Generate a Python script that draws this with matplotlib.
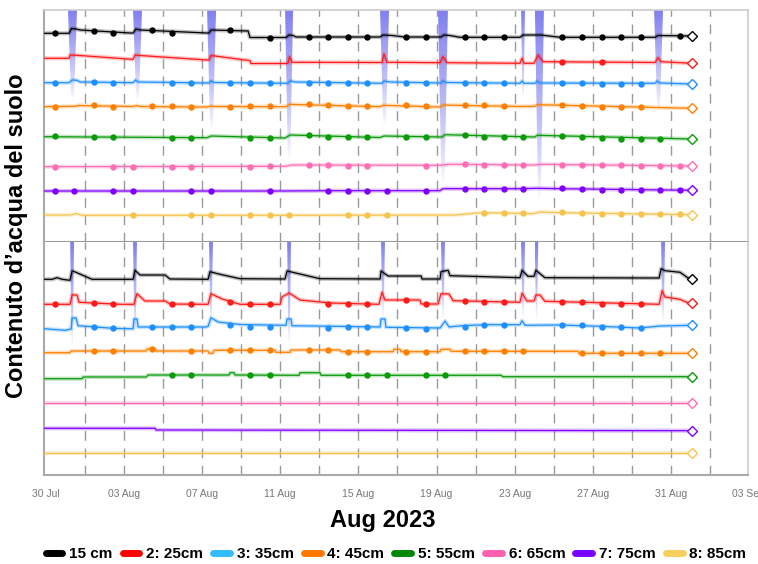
import numpy as np
import matplotlib
matplotlib.use("Agg")
import matplotlib.pyplot as plt
from matplotlib.patches import Polygon
from matplotlib.colors import to_rgb
from matplotlib import font_manager

plt.rcParams['font.family'] = ['Liberation Sans', 'DejaVu Sans']

# legend / series
labels = ['15 cm', '2: 25cm', '3: 35cm', '4: 45cm', '5: 55cm', '6: 65cm', '7: 75cm', '8: 85cm']
line_colors = ['#000000', '#ff1a1a', '#1e8fff', '#ff8000', '#0a9a0a', '#ff6eb4', '#8000ff', '#f5c44e']
legend_colors = ['#000000', '#ff0000', '#33bbff', '#ff7700', '#008800', '#ff5fb0', '#7700ff', '#f7cf5f']
rain_color = '#8080f0'

# x axis: days since 30 Jul 2023 00:00
tick_days = [0, 4, 8, 12, 16, 20, 24, 28, 32, 35.95]
tick_labels = ['30 Jul', '03 Aug', '07 Aug', '11 Aug', '15 Aug', '19 Aug',
               '23 Aug', '27 Aug', '31 Aug', '03 Sep']
grid_days = [2, 4, 6, 8, 10, 12, 14, 16, 18, 20, 22, 24, 26, 28, 30, 32, 34]
read_time = 0.45  # daily readings (dots) at about 11:00

# ---------------- top panel ----------------
t15_d = [-0.10, 1.18, 1.31, 1.54, 1.75, 4.31, 4.46, 4.61, 4.82, 8.25, 8.35, 8.45, 10.35, 10.45, 12.29, 12.45, 12.65,
         12.81, 17.11, 17.26, 17.72, 18.39, 20.23, 20.38, 20.69, 21.20, 24.27, 24.43, 25.20, 25.35, 26.32, 31.19,
         31.34, 33.08]
t15_v = [208.7, 208.7, 213.5, 213, 212, 209, 209, 213, 212, 209, 209, 212, 211, 204.5, 204.5, 207, 206.5, 205, 205,
         207, 206.5, 205, 205, 207, 206.5, 204.7, 204.7, 207, 207, 207, 204.7, 204.7, 206.5, 206]
t15_mk = [0, 2, 3, 5, 6, 9, 11, 13, 14, 15, 16, 18, 19, 21, 22, 23, 26, 27, 28, 29, 30, 32]
t15_mv = [208.7, 211, 209, 212, 209.5, 212.5, 204, 204.7, 204.7, 204.7, 204.7, 204.7, 204.7, 204.7, 204.7, 204.7,
          204.7, 204.7, 204.7, 204.7, 204.7, 206.3]

t25_d = [-0.10, 1.18, 1.23, 1.59, 4.41, 4.46, 4.56, 4.82, 8.25, 8.35, 8.45, 8.66, 10.45, 10.50, 12.29, 12.39, 12.47,
         12.60, 17.21, 17.31, 17.46, 20.18, 20.33, 20.54, 24.27, 24.38, 24.48, 24.99, 25.20, 25.45, 31.19, 31.34,
         31.50, 33.08]
t25_v = [183.7, 183.7, 187, 186.7, 182.7, 182.7, 187, 186.5, 182, 182, 186.5, 186, 181.3, 178.5, 178.5, 178.7, 185.3,
         179.7, 179.5, 188, 179.7, 179.3, 185.3, 179.3, 178.7, 183.7, 178.7, 178.7, 187, 180.3, 179.5, 184.3, 180.3,
         178.7]
t25_mk = [26, 28]
t25_mv = [180.3, 179.7]

t35_d = [-0.10, 1.18, 1.34, 1.59, 1.75, 4.46, 4.59, 4.72, 8.35, 8.45, 8.61, 12.29, 12.39, 12.50, 12.75, 17.21, 17.31,
         17.62, 20.23, 20.33, 20.49, 24.27, 24.38, 24.48, 25.04, 25.15, 25.30, 31.19, 31.29, 31.44, 33.08]
t35_v = [159.3, 159.3, 162, 161.7, 160, 159.3, 162, 160, 159, 161.3, 159.5, 158.7, 158.7, 161.3, 160, 158.7, 161, 160,
         159, 161.3, 159.5, 158.7, 161, 158.7, 158.7, 161, 159, 158.7, 161, 159, 158]
t35_mk = [0, 2, 3, 6, 7, 9, 10, 11, 13, 14, 15, 16, 18, 19, 21, 22, 23, 26, 27, 28, 29, 30]
t35_mv = [159.3, 159.7, 159, 159.3, 158.7, 158.7, 159.3, 158.7, 159.3, 159.3, 158.7, 158.7, 159.3, 158.7, 159.3,
          159.3, 158.7, 158.7, 158.7, 158.3, 158.3, 158.3]

t45_d = [-0.10, 1.49, 1.64, 4.46, 4.66, 4.82, 8.25, 8.45, 8.61, 12.29, 12.50, 12.75, 17.11, 17.26, 20.18, 20.33,
         24.27, 25.04, 25.15, 33.08]
t45_v = [135.3, 135.7, 136.5, 135.5, 136.5, 135.5, 135, 136, 135.5, 135.3, 137.7, 137.5, 135.3, 136.7, 135, 137,
         135.5, 135.7, 137.3, 133.7]
t45_mk = [0, 2, 3, 5, 6, 7, 9, 10, 11, 13, 14, 15, 16, 18, 19, 21, 22, 23, 26, 27, 28, 29, 30]
t45_mv = [135.3, 136.7, 135.3, 136, 136, 135.3, 135.3, 136, 135.7, 137.7, 137, 136, 136, 136.7, 136, 137, 136.7, 136,
          137.3, 136, 135.3, 134.7, 134.7]

t55_d = [-0.10, 8.25, 8.45, 12.24, 12.50, 17.11, 17.31, 20.28, 20.44, 25.04, 25.15, 33.08]
t55_v = [105.3, 104.3, 106, 104, 107, 104.5, 106, 105, 107.3, 105, 106.7, 103]
t55_mk = [0, 2, 3, 6, 7, 10, 11, 13, 14, 15, 16, 18, 19, 21, 22, 23, 24, 26, 27, 28, 29, 30, 31]
t55_mv = [105.7, 105.3, 104.7, 104.3, 104, 104.3, 104, 106.7, 105.3, 105.3, 105.3, 105.3, 105.3, 106.7, 105.3, 105.3,
          105.3, 106, 105.3, 104.3, 103.3, 103.3, 103.3]

t65_d = [-0.10, 12.24, 12.60, 20.18, 20.59, 25.04, 25.30, 33.08]
t65_v = [75.3, 75.7, 77, 76.7, 77.7, 77, 77.7, 76]
t65_mk = [0, 3, 4, 6, 7, 10, 11, 13, 14, 15, 16, 19, 21, 22, 23, 24, 26, 27, 28, 29, 30, 31, 32]
t65_mv = [75.3, 75.3, 75.3, 75.3, 75.3, 75.3, 75.7, 76.7, 76.7, 76, 76, 76, 77.7, 76.7, 76.7, 76.7, 77.3, 77.3, 76.7,
          76.7, 76.3, 76.3, 76.3]

t75_d = [-0.10, 12.24, 14.55, 20.18, 20.33, 24.27, 25.15, 26.32, 33.08]
t75_v = [51, 51, 51.3, 51.3, 53.3, 53.3, 53.7, 53.3, 51.7]
t75_mk = [0, 1, 3, 4, 7, 8, 11, 14, 15, 16, 17, 19, 21, 22, 23, 24, 26, 27, 28, 29, 30, 31, 32]
t75_mv = [51, 51, 51, 51, 51, 51, 51, 51.3, 51.3, 51.3, 51.3, 51.3, 53.3, 53.3, 53.3, 53, 53.7, 53, 52.3, 51.7, 51.7,
          51.7, 51.7]

t85_d = [-0.10, 1.23, 1.54, 1.85, 12.24, 20.95, 22.23, 24.27, 24.94, 25.30, 26.32, 33.08]
t85_v = [27, 27, 28.5, 26.7, 26.7, 27, 29.3, 28.7, 28.3, 30, 29.3, 27.3]
t85_mk = [4, 7, 8, 10, 11, 12, 15, 16, 17, 22, 23, 24, 26, 27, 28, 29, 30, 31, 32]
t85_mv = [27, 27, 27, 27, 27, 27, 27, 27, 27, 29.3, 28.7, 28.7, 30, 29.3, 28, 27.7, 27.7, 27.7, 27.7]

# rain / irrigation events shown at the top panel
t_rain_day = [1.36, 4.69, 8.48, 12.45, 17.34, 20.33, 24.43, 25.27, 31.37]
t_rain_w = [0.46, 0.46, 0.46, 0.41, 0.46, 0.51, 0.20, 0.46, 0.46]
t_rain_tip = [142, 142, 112, 82, 117, 57, 142, 42, 132]

# ---------------- bottom panel ----------------
b15_d = [-0.10, 0.31, 0.57, 0.82, 1.23, 1.34, 1.44, 2.36, 4.46, 4.56, 4.82, 6.10, 6.35, 8.30, 8.40, 8.91, 9.94, 12.24,
         12.35, 14.03, 17.11, 17.16, 17.52, 19.21, 19.26, 20.18, 20.23, 20.59, 20.69, 24.27, 24.38, 24.68, 24.99,
         25.09, 25.55, 31.40, 31.50, 31.70, 32.47, 32.88, 33.08]
b15_v = [195.7, 195.7, 197.3, 195.7, 194.7, 204, 203.5, 195.7, 195.7, 204.7, 200, 200, 196, 195.7, 203.3, 200.7,
         196.3, 196, 204, 196.3, 196, 204, 199, 199, 196, 196, 203.3, 204.7, 199.3, 197.3, 204.7, 198.7, 198.7, 204.7,
         197.3, 197, 206.3, 204.3, 202.7, 197, 196.3]
b15_mk = []
b15_mv = []

b25_d = [-0.10, 1.23, 1.34, 1.59, 1.69, 3.79, 4.51, 4.66, 5.07, 6.10, 6.35, 8.15, 8.30, 8.45, 9.02, 9.94, 11.99,
         12.09, 12.45, 13.01, 14.55, 17.05, 17.21, 17.36, 19.15, 19.21, 20.08, 20.23, 20.64, 20.85, 24.27, 24.38,
         24.63, 24.99, 25.09, 25.30, 25.55, 31.40, 31.55, 31.70, 32.47, 32.88, 33.08]
b25_v = [170.7, 170.7, 180, 180, 172.7, 170.7, 170.7, 181.3, 174, 174, 171, 170.7, 170.7, 181.3, 176, 170.7, 170.7,
         178, 182, 175, 172, 170.7, 182.7, 175, 175, 171, 171, 181.3, 181, 174.3, 172.7, 181.7, 174, 174, 180, 180,
         173.7, 170.7, 184.3, 178, 175.7, 172, 172.3]
b25_mk = [0, 2, 3, 6, 7, 9, 10, 11, 14, 15, 16, 18, 19, 21, 22, 23, 26, 27, 28, 29, 30]
b25_mv = [170.7, 171.8, 170.7, 170.7, 170.7, 173.3, 170.7, 170.7, 170.7, 170.7, 170.7, 174.7, 170.7, 173.7, 173, 173,
          173, 173, 171.3, 170.7, 170.7]

b35_d = [-0.10, 0.98, 1.29, 1.34, 1.54, 1.64, 3.44, 4.20, 4.46, 4.51, 4.66, 4.72, 8.15, 8.30, 8.45, 8.81, 9.94, 12.14,
         12.29, 12.35, 12.55, 12.60, 17.11, 17.16, 17.36, 17.41, 20.18, 20.44, 20.64, 21.30, 22.53, 24.27, 24.38,
         24.53, 26.32, 28.37, 30.42, 31.44, 33.08]
b35_v = [146.3, 144.7, 146, 157, 157, 149.3, 146.7, 146.3, 146.3, 156, 156, 148, 148, 148.5, 157.3, 153, 150.5, 149.7,
         149.7, 156, 156, 149.3, 148, 156, 156, 147.7, 147, 154, 148, 149.3, 150.3, 150.3, 154.3, 149.7, 150, 148.7,
         147, 149, 149.7]
b35_mk = [2, 3, 5, 6, 7, 9, 10, 11, 14, 15, 16, 18, 19, 21, 22, 23, 26, 27, 28, 29, 30]
b35_mv = [148, 147, 148, 148, 148, 149.7, 148.3, 148.3, 147.3, 148, 148, 146.7, 146, 148.3, 149.7, 149.7, 149.7,
          149.7, 148.3, 148, 147]

b45_d = [-0.10, 1.23, 1.29, 5.13, 5.18, 5.59, 5.64, 8.30, 8.35, 8.55, 8.61, 11.73, 11.78, 12.50, 12.55, 15.06, 15.11,
         17.77, 17.82, 18.13, 18.18, 20.18, 20.23, 20.69, 20.74, 27.24, 27.30, 33.08]
b45_v = [122.3, 122.3, 124, 124, 126, 126, 124, 124, 121.7, 121.7, 124.7, 124.7, 122.7, 122.7, 125, 125, 123.3, 123.3,
         125.7, 125.7, 123.3, 123.3, 125.7, 125.7, 123.7, 123.7, 121.7, 121.7]
b45_mk = [2, 3, 5, 7, 9, 10, 11, 13, 14, 15, 16, 18, 19, 21, 22, 23, 24, 27, 28, 29, 30, 31]
b45_mv = [124.3, 124.3, 126.3, 124, 124.7, 124.7, 124.7, 125, 125, 123.3, 123.3, 123.3, 123.3, 123.7, 123.7, 123.7,
          123.7, 121.7, 121.7, 121.7, 121.7, 121.7]

b55_d = [-0.10, 1.85, 1.90, 5.13, 5.23, 9.38, 9.43, 9.63, 9.68, 12.96, 13.01, 14.03, 14.09, 23.30, 23.40, 33.08]
b55_v = [96.3, 96.3, 98, 98, 100, 100, 102.3, 102.3, 100, 99.7, 102.3, 102.3, 99.7, 99.7, 98.3, 98.3]
b55_mk = [6, 7, 10, 11, 15, 16, 17, 19, 20]
b55_mv = [100, 100, 100, 100, 99.7, 99.7, 99.7, 99.7, 99.7]

b65_d = [-0.10, 33.08]
b65_v = [71.7, 71.7]
b65_mk = []
b65_mv = []

b75_d = [-0.10, 5.59, 5.64, 33.08]
b75_v = [46.7, 46.7, 45, 44.3]
b75_mk = []
b75_mv = []

b85_d = [-0.10, 33.08]
b85_v = [22.3, 22.3]
b85_mk = []
b85_mv = []

b_rain_day = [1.34, 4.56, 8.45, 12.45, 17.26, 20.33, 24.43, 25.12, 31.60]
b_rain_w = [0.20, 0.20, 0.20, 0.20, 0.20, 0.20, 0.20, 0.18, 0.20]
b_rain_tip = [129, 139, 149, 129, 156, 156, 156, 156, 152]

top_series = [(t15_d, t15_v, t15_mk, t15_mv), (t25_d, t25_v, t25_mk, t25_mv), (t35_d, t35_v, t35_mk, t35_mv),
              (t45_d, t45_v, t45_mk, t45_mv), (t55_d, t55_v, t55_mk, t55_mv), (t65_d, t65_v, t65_mk, t65_mv),
              (t75_d, t75_v, t75_mk, t75_mv), (t85_d, t85_v, t85_mk, t85_mv)]
bot_series = [(b15_d, b15_v, b15_mk, b15_mv), (b25_d, b25_v, b25_mk, b25_mv), (b35_d, b35_v, b35_mk, b35_mv),
              (b45_d, b45_v, b45_mk, b45_mv), (b55_d, b55_v, b55_mk, b55_mv), (b65_d, b65_v, b65_mk, b65_mv),
              (b75_d, b75_v, b75_mk, b75_mv), (b85_d, b85_v, b85_mk, b85_mv)]


def draw_panel(ax, series, rain_day, rain_w, rain_tip, top):
    for d in grid_days:
        ax.axvline(d, color='#9a9a9a', lw=1, dashes=(7, 5.5), zorder=0.5)

    rgb = to_rgb(rain_color)
    for d, w, tip in zip(rain_day, rain_w, rain_tip):
        grad = np.zeros((120, 1, 4))
        grad[:, 0, :3] = rgb
        grad[:, 0, 3] = np.linspace(1, 0, 120) ** 0.8
        im = ax.imshow(grad, extent=(d - w / 2, d + w / 2, tip, top), aspect='auto',
                       interpolation='bilinear', zorder=1)
        poly = Polygon([(d - w / 2, top), (d + w / 2, top), (d + w * 0.15, tip), (d - w * 0.15, tip)],
                       closed=True, transform=ax.transData)
        im.set_clip_path(poly)

    for (days, vals, mk, mv), c in zip(series, line_colors):
        ax.plot(days, vals, color=c, lw=3, alpha=0.25, zorder=2, solid_joinstyle='round')
        ax.plot(days, vals, color=c, lw=0.9, zorder=3)
        if mk:
            ax.plot(np.array(mk) + read_time, mv, 'o', color=c, ms=4.6, mec='none', zorder=4)
        ax.plot(days[-1], vals[-1], 'D', mfc='white', mec=c, ms=5.2, mew=1, zorder=5, clip_on=False)

    ax.set_xlim(-0.1, 35.95)
    ax.set_ylim(0, top)
    ax.set_yticks([])
    for s in ax.spines.values():
        s.set_color('#cccccc')
        s.set_linewidth(1.2)
    ax.spines['left'].set_color('#aaaaaa')
    ax.spines['left'].set_linewidth(1.5)


fig = plt.figure(figsize=(7.58, 5.64), dpi=100)
ax_top = fig.add_axes([44 / 758, 322 / 564, 704 / 758, 232 / 564])
ax_bot = fig.add_axes([44 / 758, 89 / 564, 704 / 758, 233 / 564])

draw_panel(ax_top, top_series, t_rain_day, t_rain_w, t_rain_tip, 232)
draw_panel(ax_bot, bot_series, b_rain_day, b_rain_w, b_rain_tip, 233)

ax_top.set_xticks([])
ax_top.spines['bottom'].set_color('#999999')
ax_top.spines['bottom'].set_linewidth(1.5)
ax_bot.spines['top'].set_visible(False)
ax_bot.spines['bottom'].set_color('#aaaaaa')
ax_bot.spines['bottom'].set_linewidth(1.5)

ax_bot.set_xticks(tick_days)
ax_bot.set_xticklabels(tick_labels)
ax_bot.tick_params(axis='x', length=0, pad=10, labelsize=7.5, labelcolor='#777777')

fig.text(17 / 758, 1 - 236 / 564, 'Contenuto d\u2019acqua del suolo', rotation=90,
         ha='center', va='center', fontsize=17, fontweight='bold')
fig.text(383 / 758, 1 - 521 / 564, 'Aug 2023', ha='center', va='center',
         fontsize=17, fontweight='bold')

# condensed bold legend font if one is installed
names = {f.name for f in font_manager.fontManager.ttflist}
if 'Liberation Sans Narrow' in names:
    leg_prop = {'family': 'Liberation Sans Narrow', 'weight': 'bold', 'size': 12.5}
else:
    leg_prop = {'family': 'Liberation Sans', 'weight': 'bold', 'size': 11}

handles = [plt.Line2D([], [], color=c, lw=5, solid_capstyle='round') for c in legend_colors]
fig.legend(handles, labels, loc='center', bbox_to_anchor=(396 / 758, 1 - 554 / 564), ncol=8,
           frameon=False, handlelength=1.1, handletextpad=0.45, columnspacing=0.65,
           borderpad=0.1, borderaxespad=0, prop=leg_prop)

fig.savefig('out.png', dpi=100)
